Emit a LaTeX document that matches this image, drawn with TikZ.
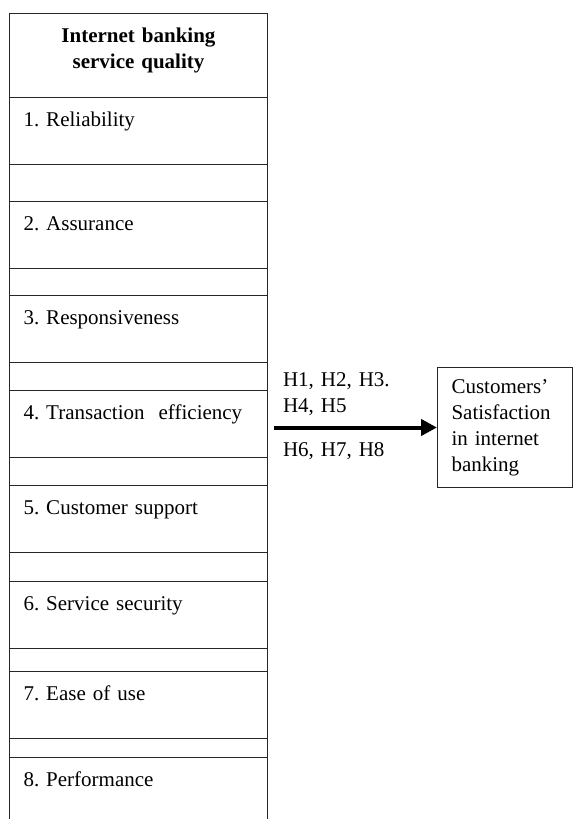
\documentclass[tikz,border=0pt]{standalone}
\usepackage{fontspec}
\setmainfont{Liberation Serif}
\usetikzlibrary{positioning}
\usetikzlibrary{arrows.meta}
\frenchspacing

\begin{document}
\begin{tikzpicture}[
  x=1pt, y=-1pt,
  font=\fontsize{21}{26}\selectfont,
  frame/.style={draw=black!85, line width=1pt},
  title/.style={frame, anchor=north west, inner xsep=14pt, inner ysep=0pt, text width=230pt, align=center, font=\fontsize{21}{26}\selectfont\bfseries, text height=29pt, text depth=55pt},
  factor/.style={frame, anchor=north west, inner xsep=14pt, inner ysep=0pt, text width=230pt, align=left, text height=29pt, text depth=38pt},
  outcome/.style={frame, anchor=north west, inner xsep=14pt, text width=107pt, align=left, minimum height=120pt},
  hyp/.style={anchor=base west, inner sep=0pt, xshift=7pt, text width=120pt, align=left},
  arrow/.style={-{Triangle[length=16pt, width=16pt]}, line width=4pt}
]

\useasboundingbox (0,0) rectangle (575,819);
\clip (0,0) rectangle (575,819);

% left column
\draw[frame] (9,13) rectangle (267,840);
\node[title] (head) at (9,13) {Internet banking\\service quality};

\foreach \y/\t/\n in {97/1. Reliability/f1, 201/2. Assurance/f2, 295/3. Responsiveness/f3,
  390/4. Transaction\ \ efficiency/f4, 485/5. Customer support/f5, 581/6. Service security/f6,
  671/7. Ease of use/f7, 757/8. Performance/f8}
  \node[factor] (\n) at (9,\y) {\t};

% outcome
\node[outcome] (sat) at (437,367) {Customers’\\Satisfaction\\in internet\\banking};

\draw[arrow] ([xshift=6pt]f4.east |- sat.west) -- (sat.west)
  node[hyp, pos=0, yshift=41pt] {H1, H2, H3.\\H4, H5}
  node[hyp, pos=0, yshift=-29pt] {H6, H7, H8};

\end{tikzpicture}
\end{document}
